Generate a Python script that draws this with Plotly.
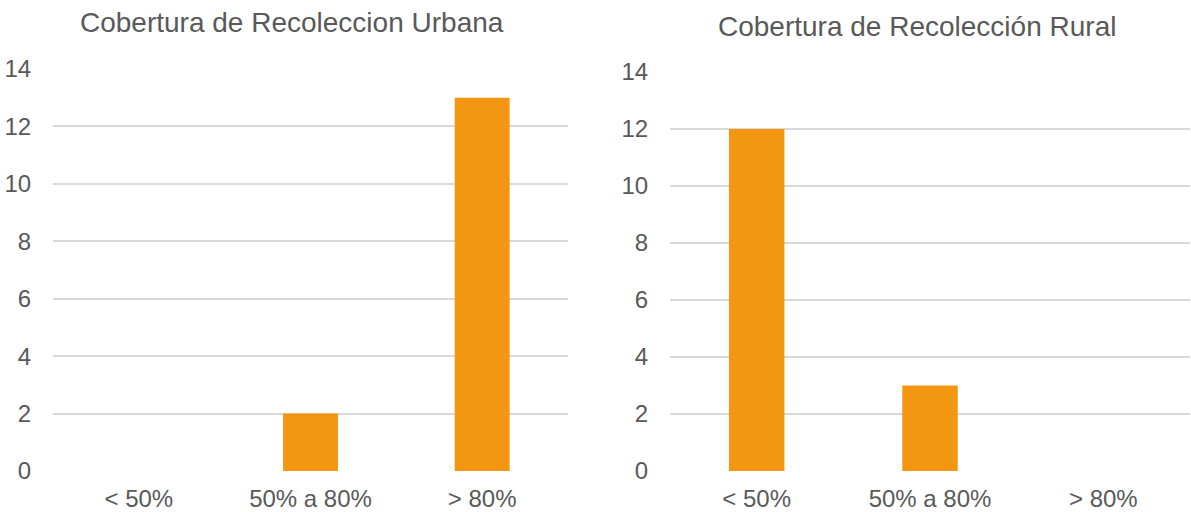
import plotly.graph_objects as go

categories = ["< 50%", "50% a 80%", "> 80%"]
urbana = [0, 2, 13]
rural = [12, 3, 0]
titles = ["Cobertura de Recoleccion Urbana", "Cobertura de Recolección Rural"]

BAR = "#F39612"
TXT = "#595959"
GRID = "#D9D9D9"
FONT = "Liberation Sans, Arial, sans-serif"
W, H = 1191, 512

fig = go.Figure()
fig.add_trace(go.Bar(x=categories, y=urbana, marker_color=BAR, width=0.32,
                     marker_line_width=0, xaxis="x", yaxis="y", showlegend=False))
fig.add_trace(go.Bar(x=categories, y=rural, marker_color=BAR, width=0.32,
                     marker_line_width=0, xaxis="x2", yaxis="y2", showlegend=False))

xcommon = dict(showgrid=False, zeroline=False, showline=False, ticks="outside",
               ticklen=6, tickcolor="rgba(0,0,0,0)", automargin=False,
               tickfont=dict(size=24, color=TXT, family=FONT))
ycommon = dict(range=[0, 14], dtick=2, showgrid=True, gridcolor=GRID, gridwidth=1.5,
               zeroline=False, showline=False, ticks="outside", ticklen=16,
               tickcolor="rgba(0,0,0,0)", automargin=False,
               tickfont=dict(size=24, color=TXT, family=FONT))

fig.update_layout(
    width=W, height=H,
    margin=dict(l=0, r=0, t=0, b=0),
    paper_bgcolor="white", plot_bgcolor="white",
    xaxis=dict(domain=[53 / W, 568 / W], anchor="y", **xcommon),
    yaxis=dict(domain=[1 - 471 / H, 1 - 69 / H], anchor="x", **ycommon),
    xaxis2=dict(domain=[670 / W, 1190 / W], anchor="y2", **xcommon),
    yaxis2=dict(domain=[1 - 471 / H, 1 - 72 / H], anchor="x2", **ycommon),
    annotations=[
        dict(text=titles[0], x=292 / W, y=1 - 22 / H, xref="paper", yref="paper",
             xanchor="center", yanchor="middle", showarrow=False,
             font=dict(size=28, color=TXT, family=FONT)),
        dict(text=titles[1], x=917 / W, y=1 - 26 / H, xref="paper", yref="paper",
             xanchor="center", yanchor="middle", showarrow=False,
             font=dict(size=28, color=TXT, family=FONT)),
    ],
)

fig.write_html("out.html")
